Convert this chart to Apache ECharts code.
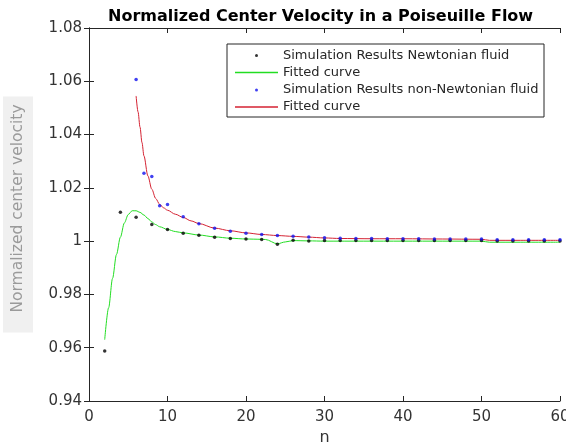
<!DOCTYPE html>
<html>
<head>
<meta charset="utf-8">
<script src="https://cdn.jsdelivr.net/npm/echarts@6/dist/echarts.min.js"></script>
<style>
	html, body { margin: 0; padding: 0; background: #fff; }
	#chart { width: 566px; height: 443px; }
</style>
</head>
<body>
<div id="chart"></div>
<script>
	// Newtonian fluid, simulation points
	var newtN = [2, 4, 6, 8, 10, 12, 14, 16, 18, 20, 22, 24, 26, 28, 30, 32, 34, 36, 38, 40, 42, 44, 46, 48, 50, 52, 54, 56, 58, 60];
	var newtV = [0.9588, 1.0108, 1.0090, 1.0062, 1.0044, 1.0030, 1.0022, 1.0015, 1.0010, 1.0008, 1.0006, 0.9988, 1.0003, 1.0001,
		1.0002, 1.0002, 1.0002, 1.0002, 1.0002, 1.0002, 1.0002, 1.0002, 1.0002, 1.0002, 1.0002, 1.0001, 1.0001, 1.0001, 1.0001, 1.0001];

	// Newtonian fitted curve
	var fitNewtN = [2, 2.5, 3, 3.5, 4, 4.5, 5, 5.5, 6, 6.5, 7, 7.5, 8, 8.5, 9, 10, 11, 12, 14, 16, 18, 20, 22, 22.5, 24, 25, 26, 28, 30, 35, 40, 45, 50, 51, 55, 60];
	var fitNewtV = [0.9630, 0.9750, 0.9860, 0.9950, 1.0015, 1.0068, 1.0100, 1.0114, 1.0114, 1.0108, 1.0098, 1.0085, 1.0072, 1.0062, 1.0054, 1.0044, 1.0036,
		1.0031, 1.0023, 1.0016, 1.0011, 1.0008, 1.0007, 1.0006, 0.9990, 0.9997, 1.0002, 1.0001, 1.0000, 1.0000, 1.0000, 1.0000, 1.0000, 0.9996, 0.9996, 0.9996];

	// non-Newtonian fluid, simulation points
	var nonN = [6, 7, 8, 9, 10, 12, 14, 16, 18, 20, 22, 24, 26, 28, 30, 32, 34, 36, 38, 40, 42, 44, 46, 48, 50, 52, 54, 56, 58, 60];
	var nonV = [1.0607, 1.0255, 1.0243, 1.0133, 1.0138, 1.0092, 1.0065, 1.0048, 1.0037, 1.0030, 1.0025, 1.0021, 1.0018, 1.0016,
		1.0013, 1.0011, 1.0010, 1.0010, 1.0009, 1.0009, 1.0009, 1.0008, 1.0008, 1.0008, 1.0008, 1.0005, 1.0005, 1.0005, 1.0005, 1.0005];

	// non-Newtonian fitted curve
	var fitNonN = [6, 6.25, 6.5, 6.75, 7, 7.5, 8, 8.5, 9, 9.5, 10, 11, 12, 13, 14, 16, 18, 20, 22, 24, 26, 28, 30, 32, 36, 40, 45, 50, 51, 55, 60];
	var fitNonV = [1.0545, 1.0485, 1.0428, 1.0370, 1.0320, 1.0245, 1.0195, 1.0160, 1.0138, 1.0125, 1.0116, 1.0101, 1.0089, 1.0076, 1.0066, 1.0049,
		1.0039, 1.0031, 1.0025, 1.0021, 1.0018, 1.0015, 1.0012, 1.0010, 1.0009, 1.0009, 1.0008, 1.0007, 1.0003, 1.0003, 1.0003];

	var seriesNames = ['Simulation Results Newtonian fluid', 'Fitted curve (Newtonian)',
		'Simulation Results non-Newtonian fluid', 'Fitted curve (non-Newtonian)'];
	var seriesColors = ['#000', '#22dd22', '#1010ee', '#d42232'];

	function pairs(xs, ys) {
		var out = [];
		for (var i = 0; i < xs.length; i++) {
			out.push([xs[i], ys[i]]);
		}
		return out;
	}

	var font = 'DejaVu Sans';
	var axisColor = '#262626';

	// one legend per row, so dots and lines get their own icon sizes
	// (the legend is placed by its drawn box, so dot rows start at the dot)
	function legendRow(i, top) {
		var isDot = i % 2 == 0;
		return {
			data: [seriesNames[i]],
			left: isDot ? 255 : 235,
			top: top,
			padding: 0,
			itemWidth: isDot ? 3 : 43,
			itemHeight: isDot ? 3 : 1.5,
			icon: isDot ? 'circle' : 'rect',
			itemStyle: { color: seriesColors[i] },
			selectedMode: false,
			z: 6,
			formatter: function (n) { return n.replace(/ \(.*\)$/, ''); },
			textStyle: { fontFamily: font, fontSize: 13, color: axisColor, padding: isDot ? [0, 0, 0, 20] : 0 }
		};
	}

	var myChart = echarts.init(document.getElementById('chart'));

	var option = {
		animation: false,
		title: {
			text: 'Normalized Center Velocity in a Poiseuille Flow',
			left: 108,
			top: 9,
			padding: 0,
			textStyle: { fontFamily: font, fontSize: 16, fontWeight: 'bold', color: '#000' }
		},
		graphic: [{
			type: 'rect',
			z: 5,
			shape: { x: 227, y: 44, width: 317, height: 73 },
			style: { fill: '#fff', stroke: axisColor, lineWidth: 1 }
		}],
		legend: [
			legendRow(0, 49),
			legendRow(1, 66),
			legendRow(2, 83.5),
			legendRow(3, 100.5)
		],
		grid: {
			left: 89,
			right: 6,
			top: 28,
			bottom: 42,
			containLabel: false,
			outerBoundsMode: 'none'
		},
		xAxis: [{
			type: 'value',
			min: 0,
			max: 60,
			interval: 10,
			name: 'n',
			nameLocation: 'middle',
			nameGap: 21,
			nameTextStyle: { fontFamily: font, fontSize: 16, color: '#333' },
			axisLine: { lineStyle: { color: axisColor, width: 1 } },
			axisTick: { inside: true, length: 5, lineStyle: { color: axisColor } },
			axisLabel: { fontFamily: font, fontSize: 15, color: '#333', margin: 9 },
			splitLine: { show: false }
		}, {
			type: 'value',
			position: 'top',
			min: 0,
			max: 60,
			interval: 10,
			axisLine: { lineStyle: { color: axisColor, width: 1 } },
			axisTick: { inside: true, length: 5, lineStyle: { color: axisColor } },
			axisLabel: { show: false },
			splitLine: { show: false }
		}],
		yAxis: [{
			type: 'value',
			min: 0.94,
			max: 1.08,
			interval: 0.02,
			name: 'Normalized center velocity',
			nameLocation: 'middle',
			nameGap: 56,
			nameTextStyle: {
				fontFamily: font,
				fontSize: 15.5,
				color: '#9a9a9a',
				backgroundColor: '#f0f0f0',
				padding: [7, 8, 7, 20]
			},
			axisLine: { lineStyle: { color: axisColor, width: 1 } },
			axisTick: { inside: true, length: 5, lineStyle: { color: axisColor } },
			axisLabel: {
				fontFamily: font,
				fontSize: 15,
				color: '#333',
				margin: 7,
				formatter: function (v) { return String(parseFloat(v.toFixed(2))); }
			},
			splitLine: { show: false }
		}, {
			type: 'value',
			position: 'right',
			min: 0.94,
			max: 1.08,
			interval: 0.02,
			axisLine: { lineStyle: { color: axisColor, width: 1 } },
			axisTick: { inside: true, length: 5, lineStyle: { color: axisColor } },
			axisLabel: { show: false },
			splitLine: { show: false }
		}],
		series: [{
			name: seriesNames[0],
			type: 'scatter',
			symbolSize: 3.5,
			itemStyle: { color: seriesColors[0] },
			data: pairs(newtN, newtV),
			z: 3
		}, {
			name: seriesNames[1],
			type: 'line',
			symbol: 'none',
			smooth: 0.3,
			smoothMonotone: 'x',
			lineStyle: { color: seriesColors[1], width: 1 },
			itemStyle: { color: seriesColors[1] },
			data: pairs(fitNewtN, fitNewtV),
			z: 2
		}, {
			name: seriesNames[2],
			type: 'scatter',
			symbolSize: 3.5,
			itemStyle: { color: seriesColors[2] },
			data: pairs(nonN, nonV),
			z: 3
		}, {
			name: seriesNames[3],
			type: 'line',
			symbol: 'none',
			smooth: 0.3,
			smoothMonotone: 'x',
			lineStyle: { color: seriesColors[3], width: 1 },
			itemStyle: { color: seriesColors[3] },
			data: pairs(fitNonN, fitNonV),
			z: 2
		}]
	};

	myChart.setOption(option);
</script>
</body>
</html>
